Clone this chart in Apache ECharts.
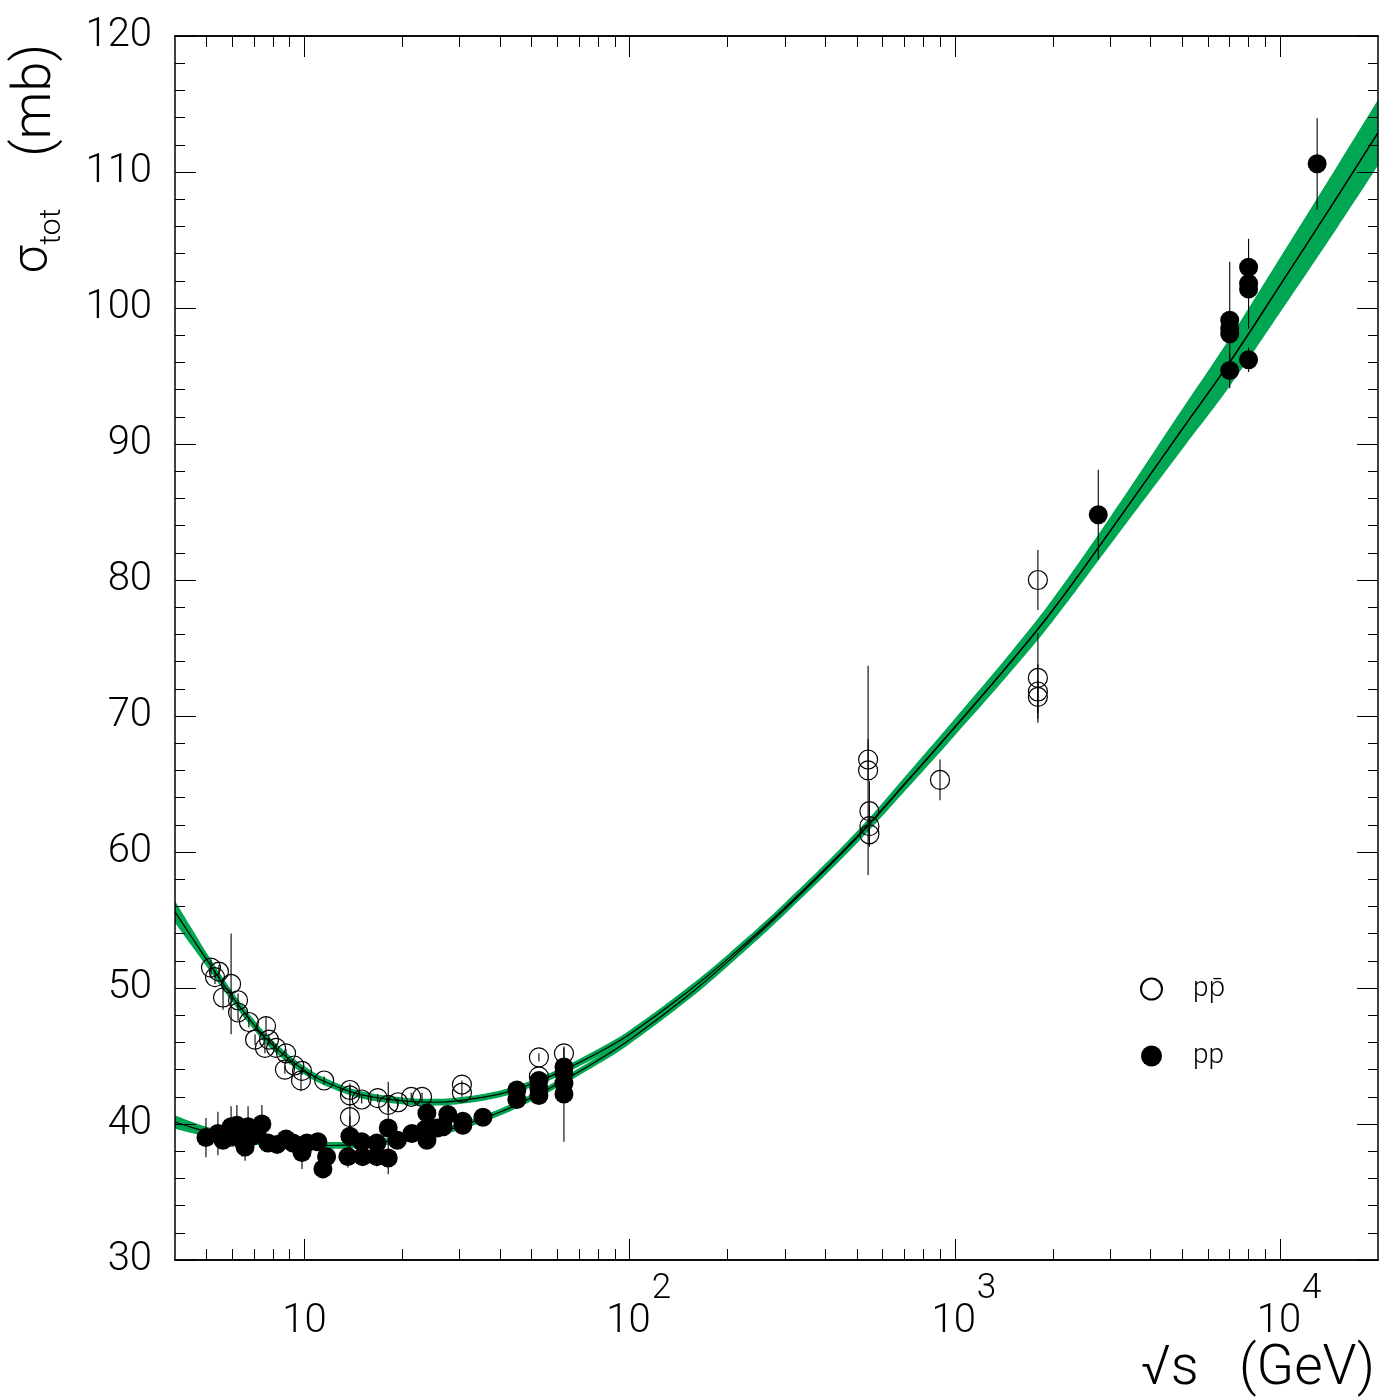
<!DOCTYPE html>
<html>
<head>
<meta charset="UTF-8">
<script src="https://cdn.jsdelivr.net/npm/echarts@6/dist/echarts.min.js"></script>
<style>
  html, body { margin: 0; padding: 0; background: #fff; }
  #chart { width: 1400px; height: 1400px; }
</style>
</head>
<body>
<div id="chart"></div>
<script>
// fit curves (centre value and half width of the band)
var curveX    = [4, 4.5, 5, 6, 7, 8, 10, 12, 15, 20, 25, 30, 40, 50, 60, 80, 100, 150, 200, 300, 500, 700, 1000, 1500, 2000, 3000, 5000, 7000, 10000, 15000, 20000];
var ppbarFit  = [55.6, 53.75, 52.1, 49.37, 47.29, 45.78, 43.94, 42.94, 42.14, 41.7, 41.6, 41.72, 42.22, 42.95, 43.74, 45.24, 46.6, 49.68, 52.12, 55.9, 61.12, 65.0, 69.2, 74.1, 77.8, 83.6, 91.1, 96.03, 101.69, 108.2, 112.9];
var ppbarBand = [0.8, 0.65, 0.5, 0.4, 0.37, 0.35, 0.3, 0.28, 0.26, 0.25, 0.25, 0.25, 0.25, 0.25, 0.26, 0.28, 0.3, 0.32, 0.33, 0.35, 0.4, 0.5, 0.6, 0.7, 0.8, 1.0, 1.45, 1.75, 2.0, 2.25, 2.4];
var ppFit     = [40.15, 39.75, 39.45, 39.02, 38.75, 38.6, 38.45, 38.42, 38.52, 38.87, 39.31, 39.82, 40.88, 41.95, 42.94, 44.69, 46.19, 49.38, 51.92, 55.78, 61.05, 64.95, 69.17, 74.07, 77.77, 83.57, 91.07, 96.0, 101.66, 108.17, 112.87];
var ppBand    = [0.5, 0.42, 0.35, 0.3, 0.28, 0.26, 0.25, 0.25, 0.25, 0.25, 0.25, 0.25, 0.25, 0.25, 0.26, 0.28, 0.3, 0.32, 0.33, 0.35, 0.4, 0.5, 0.6, 0.7, 0.8, 1.0, 1.45, 1.75, 2.0, 2.25, 2.4];

// measurements: [sqrt(s) GeV, sigma mb, error mb]
var ppbarPoints = [
  [5.16, 51.5, 0.6], [5.46, 51.2, 0.5], [5.31, 50.8, 0.5], [5.95, 50.3, 3.7], [5.62, 49.3, 0.9],
  [6.25, 49.1, 0.5], [6.25, 48.2, 0.6], [6.75, 47.5, 0.4], [7.62, 47.2, 0.7], [7.05, 46.2, 0.4],
  [7.78, 46.2, 0.4], [7.56, 45.6, 0.4], [8.18, 45.6, 0.3], [8.78, 45.2, 0.3], [8.71, 44.0, 0.3],
  [9.31, 44.3, 0.3], [9.83, 43.9, 0.3], [9.76, 43.2, 0.8], [11.5, 43.2, 0.3], [13.8, 42.5, 0.3],
  [13.8, 42.1, 0.3], [13.8, 40.5, 2.5], [15.0, 41.8, 0.3], [16.8, 41.9, 0.3], [18.1, 41.4, 0.5],
  [19.4, 41.6, 0.3], [21.3, 42.0, 0.3], [23.0, 42.0, 0.3], [30.5, 42.9, 0.3], [30.5, 42.3, 0.3],
  [52.6, 44.9, 0.3], [52.6, 43.5, 0.3], [62.8, 45.2, 0.4],
  [541, 66.8, 1.5], [541, 66.0, 7.7], [546, 63.0, 2.2], [546, 61.9, 1.5], [546, 61.3, 0.9],
  [900, 65.3, 1.5],
  [1800, 80.0, 2.2], [1800, 72.8, 3.3], [1800, 71.8, 2.0], [1800, 71.4, 1.2]
];
var ppPoints = [
  [4.98, 39.0, 1.45], [5.42, 39.3, 1.6], [5.62, 38.8, 0.5], [5.95, 39.8, 1.5], [6.20, 39.9, 1.5],
  [6.71, 39.8, 1.5], [7.40, 40.0, 1.4], [6.03, 39.1, 0.8], [6.43, 38.8, 1.2], [6.57, 38.3, 1.0],
  [6.90, 39.1, 0.5], [7.15, 39.3, 0.5], [7.72, 38.6, 0.4], [8.24, 38.5, 0.4], [8.78, 38.9, 0.4],
  [9.22, 38.6, 0.4], [9.83, 37.9, 1.2], [10.18, 38.6, 0.4], [11.0, 38.7, 0.4], [11.7, 37.6, 0.5],
  [11.4, 36.7, 0.4], [13.8, 39.1, 1.5], [13.6, 37.6, 0.8], [15.0, 38.7, 0.4], [15.1, 37.6, 0.6],
  [16.7, 38.6, 0.4], [16.7, 37.6, 0.7], [18.1, 39.7, 3.4], [18.1, 37.5, 0.7], [19.3, 38.8, 0.5],
  [21.4, 39.3, 0.4], [23.8, 40.8, 0.4], [23.5, 39.6, 0.4], [23.8, 38.8, 0.5], [25.6, 39.7, 0.3],
  [26.7, 39.8, 0.3], [27.6, 40.7, 0.3], [30.7, 40.2, 0.3], [30.7, 39.9, 0.3], [35.4, 40.5, 0.3],
  [45.0, 42.5, 0.3], [45.0, 41.8, 0.3], [52.6, 43.2, 0.3], [52.6, 42.6, 0.3], [52.6, 42.1, 0.3],
  [62.8, 44.2, 0.3], [62.8, 43.7, 0.3], [62.8, 43.0, 0.3], [62.8, 42.2, 3.5],
  [2760, 84.8, 3.3],
  [7000, 99.1, 4.3], [7000, 98.5, 0], [7000, 98.1, 0], [7000, 95.4, 1.3],
  [8000, 103.0, 0], [8000, 101.8, 3.3], [8000, 101.4, 0], [8000, 96.2, 0.9],
  [13000, 110.6, 3.35]
];

// axis ticks
var xMajorTicks = [10, 100, 1000, 10000];
var xMinorTicks = [5, 6, 7, 8, 9, 20, 30, 40, 50, 60, 70, 80, 90, 200, 300, 400, 500, 600, 700, 800, 900,
                   2000, 3000, 4000, 5000, 6000, 7000, 8000, 9000];

var FONT = 'Roboto, "Noto Sans", "DejaVu Sans", sans-serif';
var GREEN = '#00a651';

function xAxisDef(position, ticks, len, labels) {
  return {
    type: 'log', logBase: 10, min: 4, max: 20000, position: position, z: 10,
    axisLine: { show: true, onZero: false, lineStyle: { color: '#000', width: 1.5 } },
    axisTick: { show: true, inside: true, length: len, customValues: ticks,
                lineStyle: { color: '#000', width: 1 } },
    axisLabel: labels ? {
      show: true, customValues: ticks, margin: 12, color: '#000',
      formatter: function (v) {
        var e = Math.round(Math.log10(v));
        if (e === 1) return '{n|10}';
        return '{b|10}{e|' + e + '}';
      },
      rich: {
        n: { fontSize: 40, lineHeight: 40, padding: [30, 0, 0, 0], verticalAlign: 'top', fontFamily: FONT, fontWeight: 300 },
        b: { fontSize: 40, lineHeight: 40, padding: [30, 0, 0, 18], verticalAlign: 'top', fontFamily: FONT, fontWeight: 300 },
        e: { fontSize: 35, lineHeight: 40, padding: [0, 0, 30, 1], verticalAlign: 'top', fontFamily: FONT, fontWeight: 300 }
      }
    } : { show: false },
    splitLine: { show: false }
  };
}

function yAxisDef(position, labels) {
  return {
    type: 'value', min: 30, max: 120, interval: 10, position: position, z: 10,
    axisLine: { show: true, onZero: false, lineStyle: { color: '#000', width: 1.5 } },
    axisTick: { show: true, inside: true, length: 21, lineStyle: { color: '#000', width: 1 } },
    minorTick: { show: true, splitNumber: 5, length: 10, lineStyle: { color: '#000', width: 1 } },
    axisLabel: { show: labels, fontSize: 40, margin: 23, color: '#000', fontFamily: FONT, fontWeight: 300 },
    splitLine: { show: false }
  };
}

// band = green area under the upper edge, then white area under the lower edge
function edgeSeries(fit, band, sign, color, z) {
  return {
    type: 'line', data: curveX.map(function (x, i) { return [x, fit[i] + sign * band[i]]; }),
    symbol: 'none', smooth: 0.4, silent: true, z: z,
    lineStyle: { width: 0, opacity: 0 },
    areaStyle: { color: color, opacity: 1, origin: 'start' }
  };
}

function fitLine(fit) {
  return { type: 'line', data: curveX.map(function (x, i) { return [x, fit[i]]; }),
    symbol: 'none', smooth: 0.4, silent: true, z: 5,
    lineStyle: { color: '#000', width: 1.2 } };
}

function errorBars(points) {
  return {
    type: 'custom', data: points, encode: { x: 0, y: 1 }, silent: true, z: 6,
    renderItem: function (params, api) {
      var x = api.value(0), y = api.value(1), e = api.value(2);
      if (!e) return null;
      var lo = api.coord([x, y - e]);
      var hi = api.coord([x, y + e]);
      return { type: 'line', shape: { x1: lo[0], y1: lo[1], x2: hi[0], y2: hi[1] },
               style: { stroke: '#000', lineWidth: 1.1 } };
    }
  };
}

var chart = echarts.init(document.getElementById('chart'));
var option = {
  animation: false,
  backgroundColor: '#fff',
  textStyle: { fontFamily: FONT, color: '#000' },
  grid: { left: 175, right: 22, top: 36, bottom: 140, containLabel: false, outerBoundsMode: 'none' },
  legend: {
    orient: 'vertical', left: 1135, top: 970, itemWidth: 21, itemHeight: 21, itemGap: 39,
    selectedMode: false, z: 20,
    data: ['p\u0070\u0304', 'pp'],
    textStyle: { fontSize: 28, lineHeight: 21, color: '#000', fontFamily: FONT, fontWeight: 300,
                 padding: [0, 0, 0, 26] }
  },
  xAxis: [
    Object.assign(xAxisDef('bottom', xMajorTicks, 21, true), {
      name: '\u221As   (GeV)', nameLocation: 'end', nameGap: -3, nameMoveOverlap: false,
      nameTextStyle: { fontSize: 55, lineHeight: 56, align: 'right', verticalAlign: 'top',
                       padding: [82, 0, 0, 0], color: '#000', fontFamily: FONT, fontWeight: 300 }
    }),
    xAxisDef('bottom', xMinorTicks, 11, false),
    xAxisDef('top', xMajorTicks, 21, false),
    xAxisDef('top', xMinorTicks, 11, false)
  ],
  yAxis: [
    Object.assign(yAxisDef('left', true), {
      name: '{s|\u03C3}{t|tot}{m|(mb)}', nameLocation: 'end', nameGap: -8, nameRotate: 90,
      nameMoveOverlap: false,
      nameTextStyle: {
        align: 'right', verticalAlign: 'bottom', padding: [0, 0, 110, 0], color: '#000',
        rich: {
          s: { fontSize: 50, lineHeight: 56, verticalAlign: 'top', fontFamily: FONT, fontWeight: 300 },
          t: { fontSize: 30, lineHeight: 28, verticalAlign: 'top', padding: [28, 0, 0, 1], fontFamily: FONT, fontWeight: 300 },
          m: { fontSize: 54, lineHeight: 56, verticalAlign: 'top', padding: [0, 0, 0, 52], fontFamily: FONT, fontWeight: 300 }
        }
      }
    }),
    yAxisDef('right', false)
  ],
  series: [
    edgeSeries(ppbarFit, ppbarBand, 1, GREEN, 1),
    edgeSeries(ppbarFit, ppbarBand, -1, '#fff', 2),
    edgeSeries(ppFit, ppBand, 1, GREEN, 3),
    edgeSeries(ppFit, ppBand, -1, '#fff', 4),
    fitLine(ppbarFit),
    fitLine(ppFit),
    errorBars(ppbarPoints),
    errorBars(ppPoints),
    { name: 'p\u0070\u0304', type: 'scatter', data: ppbarPoints, encode: { x: 0, y: 1 },
      symbol: 'circle', symbolSize: 19, z: 7, silent: true,
      itemStyle: { color: 'rgba(0,0,0,0)', borderColor: '#000', borderWidth: 1.2, opacity: 1 } },
    { name: 'pp', type: 'scatter', data: ppPoints, encode: { x: 0, y: 1 },
      symbol: 'circle', symbolSize: 19, z: 7, silent: true,
      itemStyle: { color: '#000', borderWidth: 0, opacity: 1 } }
  ]
};
chart.setOption(option);
</script>
</body>
</html>
